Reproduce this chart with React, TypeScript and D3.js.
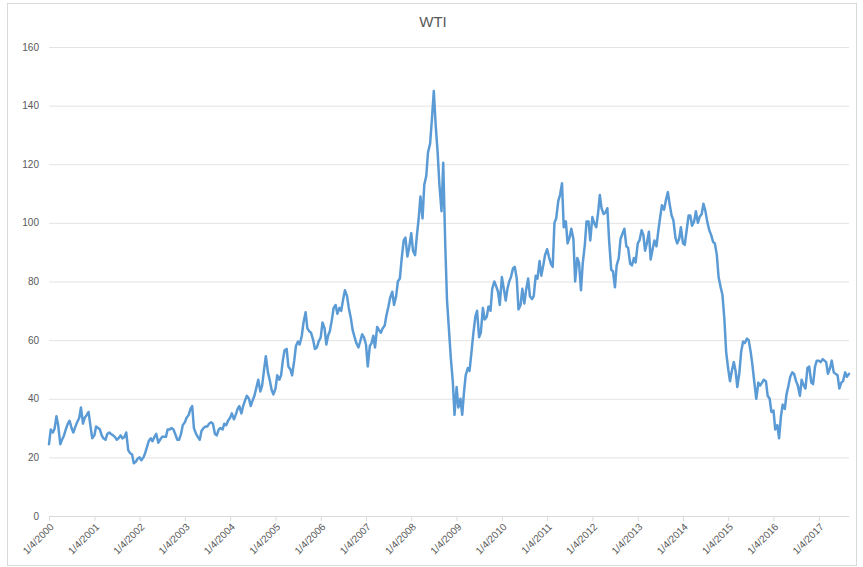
import React from "react";
import * as d3 from "d3";

// Semi-monthly readings (4th and 18th of each month), one array per year
const years = [2000, 2001, 2002, 2003, 2004, 2005, 2006, 2007, 2008, 2009, 2010, 2011, 2012, 2013, 2014, 2015, 2016, 2017];
const wti2000 = [24.5, 29.5, 28.5, 29.8, 34.0, 31.0, 24.5, 26.0, 27.5, 29.5, 31.5, 32.5, 30.0, 28.5, 30.5, 32.0, 33.5, 37.0, 31.5, 33.5, 34.5, 35.5, 30.5, 26.5];
const wti2001 = [27.5, 30.5, 30.0, 29.5, 27.5, 26.5, 26.0, 28.0, 28.5, 28.0, 27.5, 27.0, 26.0, 26.5, 27.5, 26.5, 27.0, 28.5, 22.5, 21.5, 21.0, 18.0, 18.5, 19.5];
const wti2002 = [20.0, 19.0, 20.0, 21.5, 23.5, 25.5, 26.5, 25.5, 27.0, 28.0, 25.0, 26.0, 27.0, 27.0, 27.0, 29.5, 29.5, 30.0, 29.5, 28.0, 26.0, 26.0, 28.0, 31.0];
const wti2003 = [32.0, 33.5, 34.5, 36.5, 37.5, 30.0, 28.0, 27.0, 26.0, 29.0, 30.0, 30.5, 30.5, 31.5, 32.0, 31.5, 28.0, 27.5, 29.5, 30.0, 29.5, 31.5, 31.0, 32.5];
const wti2004 = [33.5, 35.0, 33.0, 34.5, 36.5, 37.5, 35.0, 37.5, 39.5, 41.0, 40.0, 37.5, 39.5, 41.0, 44.0, 46.5, 42.5, 44.5, 50.0, 54.5, 49.0, 46.5, 43.0, 41.5];
const wti2005 = [43.5, 48.0, 46.5, 48.0, 53.0, 56.5, 57.0, 51.0, 50.0, 48.0, 53.0, 58.0, 59.5, 58.5, 61.5, 66.0, 69.5, 64.0, 63.0, 62.5, 60.0, 57.0, 57.5, 59.5];
const wti2006 = [61.0, 66.0, 64.0, 58.5, 61.5, 63.0, 67.0, 71.0, 72.0, 69.0, 71.0, 70.0, 74.0, 77.0, 75.0, 71.0, 67.5, 63.5, 61.0, 59.0, 57.5, 59.5, 62.0, 61.0];
const wti2007 = [58.5, 51.0, 58.0, 59.0, 61.5, 57.5, 64.5, 63.5, 62.5, 64.0, 65.0, 68.5, 71.5, 74.5, 76.5, 72.0, 75.0, 80.0, 81.0, 87.5, 94.0, 95.0, 88.5, 91.5];
const wti2008 = [96.5, 90.5, 89.0, 95.5, 101.5, 109.0, 101.5, 113.0, 116.0, 124.0, 127.0, 135.0, 145.0, 134.0, 124.0, 113.0, 104.0, 120.5, 93.0, 74.0, 63.0, 54.0, 46.0, 34.5];
const wti2009 = [44.0, 37.0, 40.0, 34.5, 42.0, 48.0, 50.5, 49.5, 56.0, 62.0, 68.0, 70.0, 61.0, 62.5, 71.0, 67.0, 68.0, 71.5, 70.0, 77.5, 80.0, 78.5, 76.5, 72.0];
const wti2010 = [81.5, 78.0, 73.5, 77.5, 80.0, 81.5, 84.5, 85.0, 81.0, 70.5, 72.0, 77.5, 72.5, 77.0, 81.0, 75.0, 74.0, 75.0, 82.0, 81.0, 87.0, 82.0, 85.5, 89.0];
const wti2011 = [91.0, 88.5, 86.0, 85.0, 100.0, 101.5, 107.5, 109.5, 113.5, 98.5, 100.5, 93.0, 95.0, 98.0, 94.5, 80.0, 88.0, 86.5, 77.0, 86.0, 92.5, 100.5, 100.5, 94.0];
const wti2012 = [102.0, 100.0, 98.5, 103.0, 109.5, 105.0, 103.0, 103.5, 105.0, 94.0, 84.0, 83.5, 78.0, 85.5, 88.0, 94.5, 96.5, 98.0, 92.0, 91.5, 86.0, 85.5, 88.0, 86.5];
const wti2013 = [93.0, 94.0, 97.5, 96.0, 90.5, 93.0, 97.0, 87.5, 91.0, 94.0, 92.0, 97.0, 102.0, 106.0, 104.5, 107.5, 110.5, 106.5, 102.5, 101.0, 95.0, 93.0, 94.5, 98.5];
const wti2014 = [93.0, 92.5, 98.0, 102.5, 102.5, 99.0, 100.5, 104.0, 100.0, 102.0, 103.0, 106.5, 104.0, 100.5, 97.5, 96.0, 93.5, 93.0, 89.0, 81.5, 78.0, 75.5, 67.0, 56.0];
const wti2015 = [50.0, 46.0, 50.0, 52.5, 49.5, 44.0, 49.0, 56.0, 59.5, 59.0, 60.5, 60.0, 56.0, 51.5, 45.0, 40.0, 45.5, 44.5, 45.5, 46.5, 46.0, 41.0, 40.0, 35.5];
const wti2016 = [36.0, 29.5, 31.0, 26.5, 34.0, 38.0, 36.5, 41.5, 44.5, 47.5, 49.0, 48.5, 46.0, 44.5, 41.0, 46.5, 44.5, 43.5, 50.5, 51.0, 45.5, 45.0, 51.0, 53.0];
const wti2017 = [53.0, 52.5, 53.5, 53.0, 52.5, 48.5, 50.5, 53.0, 49.0, 48.5, 48.0, 43.5, 45.5, 46.0, 49.0, 47.5, 48.5];

const seriesByYear = [wti2000, wti2001, wti2002, wti2003, wti2004, wti2005, wti2006, wti2007, wti2008, wti2009, wti2010, wti2011, wti2012, wti2013, wti2014, wti2015, wti2016, wti2017];

const xTickLabels = ["1/4/2000", "1/4/2001", "1/4/2002", "1/4/2003", "1/4/2004", "1/4/2005", "1/4/2006", "1/4/2007", "1/4/2008", "1/4/2009", "1/4/2010", "1/4/2011", "1/4/2012", "1/4/2013", "1/4/2014", "1/4/2015", "1/4/2016", "1/4/2017"];
const yTicks = [0, 20, 40, 60, 80, 100, 120, 140, 160];
const title = "WTI";

type Pt = { date: Date; value: number };

const data: Pt[] = seriesByYear.flatMap((vals, k) =>
  vals.map((v, i) => ({
    date: new Date(years[k], Math.floor(i / 2), i % 2 ? 18 : 4),
    value: v,
  }))
);

const tickDates = xTickLabels.map((s) => {
  const [m, d, y] = s.split("/").map(Number);
  return new Date(y, m - 1, d);
});

export default function App() {
  const W = 863;
  const H = 567;
  const left = 49;
  const right = 849;
  const top = 47;
  const bottom = 516;

  const x = d3
    .scaleTime()
    .domain([data[0].date, data[data.length - 1].date])
    .range([left, right]);
  const y = d3.scaleLinear().domain([0, 160]).range([bottom, top]);

  const line = d3
    .line<Pt>()
    .x((d) => x(d.date))
    .y((d) => y(d.value));

  const textColor = "#595959";
  const gridColor = "#D9D9D9";
  const font = "'Liberation Sans', Arial, sans-serif";

  return (
    <svg
      width={W}
      height={H}
      style={{ position: "absolute", left: 0, top: 0, background: "#fff" }}
      fontFamily={font}
    >
      <rect x={7.5} y={3.5} width={849} height={562} fill="#fff" stroke={gridColor} strokeWidth={1} />
      <text x={433} y={27} textAnchor="middle" fontSize={15} fill={textColor}>
        {title}
      </text>
      {yTicks.map((t) => (
        <g key={t}>
          {t !== 0 && (
            <line x1={left} x2={right} y1={y(t) + 0.5} y2={y(t) + 0.5} stroke={gridColor} strokeWidth={0.75} />
          )}
          <text x={39} y={y(t)} dy="0.35em" textAnchor="end" fontSize={10} fill={textColor}>
            {t}
          </text>
        </g>
      ))}
      <line x1={left} x2={right} y1={bottom + 0.5} y2={bottom + 0.5} stroke={gridColor} strokeWidth={1} />
      {tickDates.map((d, i) => {
        const tx = x(d);
        return (
          <g key={i}>
            <line x1={tx + 0.5} x2={tx + 0.5} y1={bottom} y2={bottom + 5} stroke={gridColor} strokeWidth={1} />
            <text
              transform={`translate(${tx + 3},${bottom + 9}) rotate(-45)`}
              textAnchor="end"
              dy="0.35em"
              fontSize={10}
              fill={textColor}
            >
              {xTickLabels[i]}
            </text>
          </g>
        );
      })}
      <path
        d={line(data) || ""}
        fill="none"
        stroke="#5B9BD5"
        strokeWidth={2.5}
        strokeLinejoin="round"
        strokeLinecap="round"
      />
    </svg>
  );
}
